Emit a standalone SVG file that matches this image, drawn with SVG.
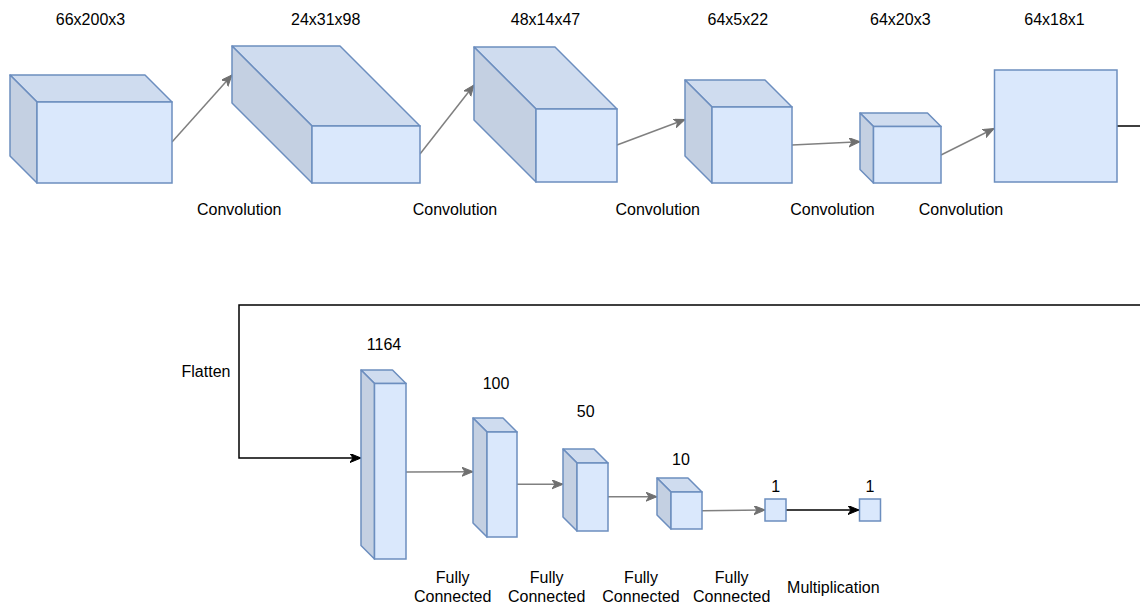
<svg xmlns="http://www.w3.org/2000/svg" width="1140" height="606" viewBox="0 0 1140 606">
<style>
text{font-family:"Liberation Sans",Arial,Helvetica,sans-serif;font-size:16px;fill:#000;text-anchor:middle}
.front{fill:#dae8fc;stroke:#6c8ebf;stroke-width:1.5}
.top{fill:#cfdcef;stroke:#6c8ebf;stroke-width:1.5;stroke-linejoin:round}
.side{fill:#c4d0e2;stroke:#6c8ebf;stroke-width:1.5;stroke-linejoin:round}
.gl{fill:none;stroke:#808080;stroke-width:1.5;marker-end:url(#ag)}
.bl{fill:none;stroke:#000;stroke-width:1.5;marker-end:url(#ab)}
.bk{fill:none;stroke:#1a1a1a;stroke-width:1.5}
</style>
<defs>
<marker id="ag" markerUnits="userSpaceOnUse" markerWidth="12" markerHeight="10" refX="11" refY="4.5" orient="auto">
<path d="M0,0 L11,4.5 L0,9 L3,4.5 Z" fill="#707070" stroke="#707070" stroke-width="1" stroke-linejoin="miter"/>
</marker>
<marker id="ab" markerUnits="userSpaceOnUse" markerWidth="12" markerHeight="10" refX="11" refY="4.5" orient="auto">
<path d="M0,0 L11,4.5 L0,9 L3,4.5 Z" fill="#000" stroke="#000" stroke-width="1"/>
</marker>
</defs>
<rect width="1140" height="606" fill="#fff"/>

<g id="connectors">
<path class="gl" d="M172,142 L232,75"/>
<path class="gl" d="M420,154 L474,85"/>
<path class="gl" d="M617,145 L685,119.5"/>
<path class="gl" d="M792,145 L860,141.7"/>
<path class="gl" d="M941,155 L994,128.5"/>
<path class="bl" d="M1117,126 H1160 V305 H239 V458 H361"/>
<path class="gl" d="M406,472 L473,471.7"/>
<path class="gl" d="M517,484.3 L563,484.3"/>
<path class="gl" d="M608,496.7 L657,496.7"/>
<path class="gl" d="M702,510.7 L765,510"/>
<path class="bl" d="M786,510 L859,510"/>
</g>

<g id="cube1">
<polygon class="top" points="10,75 145,75 172,102 37,102"/>
<polygon class="side" points="10,75 37,102 37,183 10,156"/>
<rect class="front" x="37" y="102" width="135" height="81"/>
<text x="90.5" y="25">66x200x3</text>
</g>
<g id="cube2">
<polygon class="top" points="232,46 340,46 420,126 312,126"/>
<polygon class="side" points="232,46 312,126 312,183 232,103"/>
<rect class="front" x="312" y="126" width="108" height="57"/>
<text x="325.7" y="25">24x31x98</text>
</g>
<g id="cube3">
<polygon class="top" points="474,47 555,47 617,109 536,109"/>
<polygon class="side" points="474,47 536,109 536,182 474,120"/>
<rect class="front" x="536" y="109" width="81" height="73"/>
<text x="545.5" y="25">48x14x47</text>
</g>
<g id="cube4">
<polygon class="top" points="685,80 765,80 792,107 712,107"/>
<polygon class="side" points="685,80 712,107 712,183 685,156"/>
<rect class="front" x="712" y="107" width="80" height="76"/>
<text x="737.8" y="25">64x5x22</text>
</g>
<g id="cube5">
<polygon class="top" points="860,113 927.5,113 941,126.5 873.5,126.5"/>
<polygon class="side" points="860,113 873.5,126.5 873.5,183 860,169.5"/>
<rect class="front" x="873.5" y="126.5" width="67.5" height="56.5"/>
<text x="900.3" y="25">64x20x3</text>
</g>
<g id="box6">
<rect class="front" x="994.5" y="70" width="122.5" height="112"/>
<text x="1054.5" y="25">64x18x1</text>
</g>

<g id="conv-labels">
<text x="239.2" y="215">Convolution</text>
<text x="455" y="215">Convolution</text>
<text x="657.7" y="215">Convolution</text>
<text x="832.5" y="215">Convolution</text>
<text x="961" y="215">Convolution</text>
</g>

<g id="flatten-label"><text x="206" y="377">Flatten</text></g>

<g id="fc1164">
<polygon class="top" points="361,370 392.5,370 406,383.5 374.5,383.5"/>
<polygon class="side" points="361,370 374.5,383.5 374.5,559 361,545.5"/>
<rect class="front" x="374.5" y="383.5" width="31.5" height="175.5"/>
<text x="384" y="350">1164</text>
</g>
<g id="fc100">
<polygon class="top" points="473,418 503,418 517,432 487,432"/>
<polygon class="side" points="473,418 487,432 487,537 473,523"/>
<rect class="front" x="487" y="432" width="30" height="105"/>
<text x="496" y="389">100</text>
</g>
<g id="fc50">
<polygon class="top" points="563,449 594,449 608,463 577,463"/>
<polygon class="side" points="563,449 577,463 577,531 563,517"/>
<rect class="front" x="577" y="463" width="31" height="68"/>
<text x="585.7" y="416.7">50</text>
</g>
<g id="fc10">
<polygon class="top" points="657,478 688,478 702,492 671,492"/>
<polygon class="side" points="657,478 671,492 671,529 657,515"/>
<rect class="front" x="671" y="492" width="31" height="37"/>
<text x="681" y="465">10</text>
</g>
<g id="out1">
<rect class="front" x="765" y="499" width="21" height="22"/>
<text x="775.7" y="491.7">1</text>
</g>
<g id="out2">
<rect class="front" x="859.5" y="499" width="21" height="22"/>
<text x="870" y="491.7">1</text>
</g>

<g id="op-labels">
<text x="452.7" y="583.3">Fully</text>
<text x="452.7" y="602.3">Connected</text>
<text x="546.7" y="583.3">Fully</text>
<text x="546.7" y="602.3">Connected</text>
<text x="641" y="583.3">Fully</text>
<text x="641" y="602.3">Connected</text>
<text x="731.7" y="583.3">Fully</text>
<text x="731.7" y="602.3">Connected</text>
<text x="833.3" y="592.7">Multiplication</text>
</g>
</svg>
